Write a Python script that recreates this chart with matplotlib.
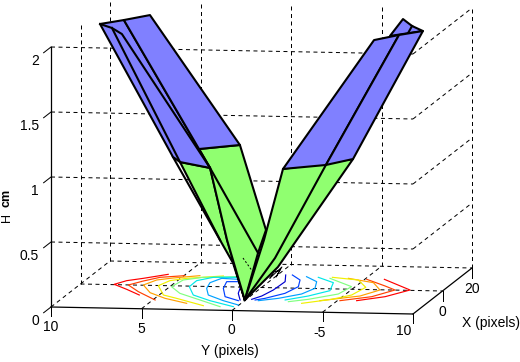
import matplotlib
matplotlib.use("Agg")
import matplotlib.pyplot as plt
import numpy as np
from matplotlib.patches import Polygon

plt.rcParams['font.family'] = ['Liberation Sans', 'DejaVu Sans']

# ---------- axis content ----------
y_ticks = [10, 5, 0, -5, -10]
y_tick_labels = ["10", "5", "0", "-5", "10"]
x_ticks = [0, 20]
x_tick_labels = ["0", "20"]
h_ticks = [0.5, 1, 1.5, 2]
h_tick_labels = ["0.5", "1", "1.5", "2"]

# ---------- surface vertices: (Y, H), on the row X = -15 ----------
surface_x = -15
tip_l = (7.70, 2.139); top_l1 = (6.38, 2.173); top_l2 = (4.94, 2.215)
bend_l1 = (7.04, 2.110); bend_l2 = (6.49, 2.065)
edge_l = (-0.03, 1.229); mid_l = (2.23, 1.192); low_l = (1.62, 1.048)
out_l1 = (3.28, 1.089); out_l2 = (3.67, 1.127)
notch_l = (-1.47, 0.579); fold_l = (-1.03, 0.401)
side_l1 = (1.07, 0.495); side_l2 = (0.35, 0.320); inner_l = (0.68, 0.496)
apex = (-0.30, 0.037)
back_r1 = (-9.04, 2.222); back_r2 = (-9.54, 2.170); tip_r = (-10.14, 2.133)
top_r1 = (-7.44, 2.056); top_r2 = (-8.32, 2.090); top_r3 = (-8.82, 2.099); top_r4 = (-9.32, 2.115)
edge_r1 = (-2.41, 1.051); edge_r2 = (-4.78, 1.088); edge_r3 = (-6.28, 1.138)
low_r1 = (-1.36, 0.502); low_r2 = (-1.97, 0.365); low_r3 = (-2.13, 0.296)
mesh_pts = [(-1.69, 0.210), (-2.35, 0.297), (-2.03, 0.219), (-2.24, 0.273), (-1.91, 0.257), (-1.69, 0.210)]
fine_line = [(-0.20, 0.360), (-0.75, 0.254)]

# ---------- contours on the floor, (Y, X) ----------
contour_colors = ['#ff0000', '#ff4000', '#ffa000', '#f0f000', '#80ff80',
                  '#00e8e8', '#00a0ff', '#0040ff', '#0000d0']
contours_left = [
    [(5.94, 9.65), (7.00, 5.85), (7.74, 3.59), (8.16, 0.28), (7.14, -3.77), (6.07, -8.37)],
    [(4.95, 8.79), (6.17, 6.97), (6.82, 3.58), (7.35, -0.06), (6.35, -5.56), (4.87, -12.35)],
    [(4.14, 9.04), (5.42, 6.62), (6.17, 4.65), (6.54, 0.19), (5.65, -6.21), (4.45, -10.78), (2.94, -14.66)],
    [(2.85, 9.14), (4.67, 6.56), (5.41, 4.30), (5.69, -0.14), (4.77, -7.97), (3.83, -10.59), (1.88, -16.37)],
    [(2.09, 8.79), (3.84, 7.68), (4.74, 5.08), (4.91, -0.77), (4.00, -6.28), (2.45, -11.61), (0.91, -16.94)],
    [(2.04, 8.23), (3.30, 7.85), (3.97, 4.74), (3.95, -0.48), (3.16, -7.48), (1.87, -12.02), (0.19, -16.73)],
    [(1.81, 6.56), (2.78, 7.13), (3.11, 3.26), (2.90, -1.60), (2.35, -7.24), (1.15, -11.80), (0.04, -15.22)],
    [(1.65, 4.58), (2.28, 4.38), (2.00, -1.33), (1.33, -8.37), (0.34, -11.55)],
    [(1.10, -1.06), (0.85, -5.32), (0.29, -10.96)],
]
contours_right = [
    [(-6.06, 8.95), (-8.18, 0.32), (-7.30, -5.75), (-6.04, -9.62)],
    [(-5.11, 8.66), (-6.56, 3.30), (-7.37, 0.07), (-6.58, -5.97), (-5.14, -9.89)],
    [(-4.05, 9.21), (-5.70, 5.94), (-6.56, -0.17), (-5.90, -5.60), (-4.06, -10.22)],
    [(-3.12, 9.79), (-4.70, 7.95), (-5.61, 1.85), (-5.38, -4.89), (-4.60, -8.90), (-3.26, -12.78)],
    [(-3.06, 8.90), (-4.80, 2.18), (-4.59, -4.26), (-3.34, -9.28), (-2.43, -11.59)],
    [(-2.36, 9.56), (-3.54, 5.28), (-3.91, -1.57), (-3.11, -6.45), (-2.14, -10.22)],
    [(-1.68, 9.93), (-2.57, 5.86), (-2.94, 0.17), (-2.61, -4.86), (-1.66, -8.92), (-0.74, -11.23)],
    [(-0.80, 11.12), (-1.56, 6.99), (-1.93, 1.31), (-1.67, -4.56), (-0.94, -9.14), (-0.52, -10.72)],
    [(-0.44, 11.01), (-0.87, 5.34), (-0.81, -1.93), (-0.60, -7.22), (-0.29, -10.21)],
]

BLUE = '#8080ff'
GREEN = '#90ff70'


def project(y, x, h):
    """Oblique projection of the 3-D axes box onto the figure."""
    y, x, h = np.asarray(y, float), np.asarray(x, float), np.asarray(h, float)
    px = 51 + (10 - y) * 18.1 + (x + 20) * 1.475
    py = 307 + (10 - y) * 0.35 - (x + 20) * 1.15 - 130 * h
    return px, py


fig = plt.figure(figsize=(5.2, 3.62), dpi=100, facecolor='white')
ax = fig.add_axes([0, 0, 1, 1])
ax.set_xlim(0, 520)
ax.set_ylim(362, 0)
ax.axis('off')


def line3(ys, xs, hs, **kw):
    px, py = project(ys, xs, hs)
    kw.setdefault('color', 'black')
    ax.plot(px, py, **kw)


DASH = dict(lw=0.72, linestyle=(0, (4, 3.5)), zorder=1)
# grid
for h in h_ticks:
    line3([10, -10], [-20, -20], [h, h], **DASH)
    line3([-10, -10], [-20, 20], [h, h], **DASH)
for xv in x_ticks:
    line3([10, 10], [xv, xv], [0, 2], **DASH)
    line3([10, -10], [xv, xv], [0, 0], **DASH)
for yv in y_ticks[1:]:
    line3([yv, yv], [20, 20], [0, 2], **DASH)
for yv in y_ticks[:-1]:
    line3([yv, yv], [-20, 20], [0, 0], **DASH)

# contours
for col, left, right in zip(contour_colors, contours_left, contours_right):
    for seg in (left, right):
        ys, xs = zip(*seg)
        line3(ys, xs, np.zeros(len(ys)), color=col, lw=0.85, zorder=2)

# axes lines
SOLID = dict(lw=0.9, zorder=3)
line3([10, 10], [-20, -20], [0, 2], **SOLID)
line3([10, -10], [-20, -20], [0, 0], **SOLID)
line3([-10, -10], [-20, 20], [0, 0], **SOLID)
for h in [0] + h_ticks:
    line3([10, 10], [-20, -25], [h, h], lw=0.72, zorder=3)
for yv in y_ticks:
    line3([yv, yv], [-20, -20], [0, -0.07], lw=0.72, zorder=3)
for xv in x_ticks:
    line3([-10, -10], [xv, xv], [0, -0.077], lw=0.72, zorder=3)


def face(verts, color, z):
    ys, hs = zip(*verts)
    px, py = project(ys, np.full(len(ys), surface_x), hs)
    ax.add_patch(Polygon(np.column_stack([px, py]), closed=True, facecolor=color,
                         edgecolor='black', lw=1.5, zorder=z, joinstyle='round'))


def ridge(verts, z):
    ys, hs = zip(*verts)
    line3(ys, np.full(len(ys), surface_x), hs, lw=1.5, zorder=z)


# left wing
face([out_l1, low_l, inner_l, apex, side_l2, side_l1], GREEN, 5)
face([mid_l, edge_l, notch_l, fold_l, apex, inner_l, low_l], GREEN, 5)
ridge([low_l, fold_l], 5.5)
face([tip_l, top_l1, mid_l, low_l, out_l1, out_l2], BLUE, 6)
face([top_l1, top_l2, edge_l, mid_l], BLUE, 6)
ridge([tip_l, bend_l1, bend_l2, low_l], 6.5)
ridge([bend_l1, out_l1], 6.5)
ridge([out_l2, side_l1], 5.5)
px_, py_ = project(*zip(*[(fine_line[0][0], surface_x, fine_line[0][1]),
                          (fine_line[1][0], surface_x, fine_line[1][1])]))
ax.plot(px_, py_, color='black', lw=0.72, linestyle=(0, (2, 2)), zorder=5.6)

# right wing
face([top_r2, back_r1, back_r2, tip_r], BLUE, 7)
ridge([back_r2, top_r4], 7.2)
face([edge_r1, edge_r3, low_r3, apex, low_r1], GREEN, 8)
ridge([edge_r2, low_r2, apex], 8.5)
face([top_r1, top_r3, edge_r2, edge_r1], BLUE, 9)
face([top_r3, tip_r, edge_r3, edge_r2], BLUE, 9)
ys_, hs_ = zip(*mesh_pts)
line3(ys_, np.full(len(ys_), surface_x), hs_, lw=0.72, zorder=8.6)

# tick labels
FS = 10
for h, lab in zip([0] + h_ticks, ["0"] + h_tick_labels):
    px, py = project(10, -20, h)
    ax.text(px - 12, py + 14, lab, ha='right', va='center', fontsize=FS, zorder=10)
y_label_dx = [0, 0, -1, -3, -9]
y_label_dy = [20, 20, 20, 21, 17]
for yv, lab, dx, dy in zip(y_ticks, y_tick_labels, y_label_dx, y_label_dy):
    px, py = project(yv, -20, 0)
    ax.text(px + dx, py + dy, lab, ha='center', va='center', fontsize=FS, zorder=10)
for xv, lab in zip(x_ticks, x_tick_labels):
    px, py = project(-10, xv, 0)
    ax.text(px, py + 21, lab, ha='center', va='center', fontsize=FS, zorder=10)

# axis labels
ax.text(230, 351, "Y (pixels)", ha='center', va='center', fontsize=FS, zorder=10)
ax.text(491, 323, "X (pixels)", ha='center', va='center', fontsize=FS, zorder=10)
ax.text(7, 217, "H", rotation=90, ha='center', va='center', fontsize=FS - 1, zorder=10)
ax.text(7, 198, "cm", rotation=90, ha='center', va='center', fontsize=FS - 1,
        fontweight='bold', zorder=10)

fig.savefig("out.png", dpi=100, facecolor='white')
